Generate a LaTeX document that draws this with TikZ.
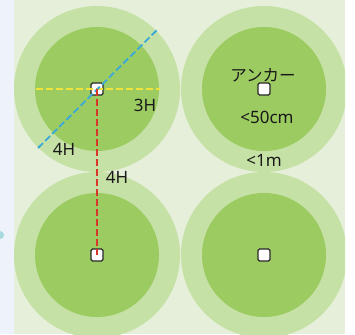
\documentclass[tikz,border=0pt]{standalone}
\usepackage{fontspec}
\setmainfont{Noto Sans}
\newfontfamily\jpfont{Noto Sans CJK JP}
\definecolor{strip}{HTML}{EEF2FA}
\definecolor{bgg}{HTML}{E5EFD9}
\definecolor{outerg}{HTML}{C6E1A6}
\definecolor{innerg}{HTML}{9CCB62}
\definecolor{yel}{HTML}{F2E33A}
\definecolor{blu}{HTML}{3AA9D8}
\definecolor{redd}{HTML}{D9352A}
\definecolor{tealc}{HTML}{A8D8E0}
\begin{document}
\begin{tikzpicture}[x=1pt,y=-1pt,
  anchorbox/.style={draw=black!85,fill=white,line width=1.1pt,rounded corners=1.5pt,minimum size=12pt,inner sep=0pt},
  lbl/.style={font=\fontsize{17}{19}\selectfont,text=black!90,inner sep=0pt},
  dline/.style={line width=1.8pt,dash pattern=on 7pt off 3pt}]
\useasboundingbox (0,0) rectangle (355,334);
\fill[white] (0,0) rectangle (355,334);
\fill[strip] (0,0) rectangle (14,334);
\fill[tealc] (0,235) circle (4);
\fill[bgg] (14,0) rectangle (345,334);
\begin{scope}
\clip (14,0) rectangle (345,334);
\foreach \p in {(97,89),(264,89),(97,255),(264,255)} {
  \fill[outerg] \p circle (83);
}
\foreach \p in {(97,89),(264,89),(97,255),(264,255)} {
  \fill[innerg] \p circle (62);
}
\end{scope}
\node[anchorbox] (a1) at (97,89) {};
\node[anchorbox] (a2) at (264,89) {};
\node[anchorbox] (a3) at (97,255) {};
\node[anchorbox] (a4) at (264,255) {};
\coordinate (yl) at (36,89);
\coordinate (yr) at (160,89);
\coordinate (bl) at (38,148);
\coordinate (bu) at (157,30);
\draw[dline,yel] (yl) -- (yr);
\draw[dline,blu] (bl) -- (bu);
\draw[dline,redd] (a1.center) -- (a3.center);
\node[lbl] (t3h) at (145,105) {3H};
\node[lbl] (t4hd) at (64,149) {4H};
\node[lbl] (t4hv) at (117,177) {4H};
\node[lbl,font=\jpfont\fontsize{16.5}{19}\selectfont] (tanc) at (263,75) {アンカー};
\node[lbl] (t50) at (267,117) {<50cm};
\node[lbl] (t1m) at (264,160) {<1m};
\end{tikzpicture}
\end{document}
